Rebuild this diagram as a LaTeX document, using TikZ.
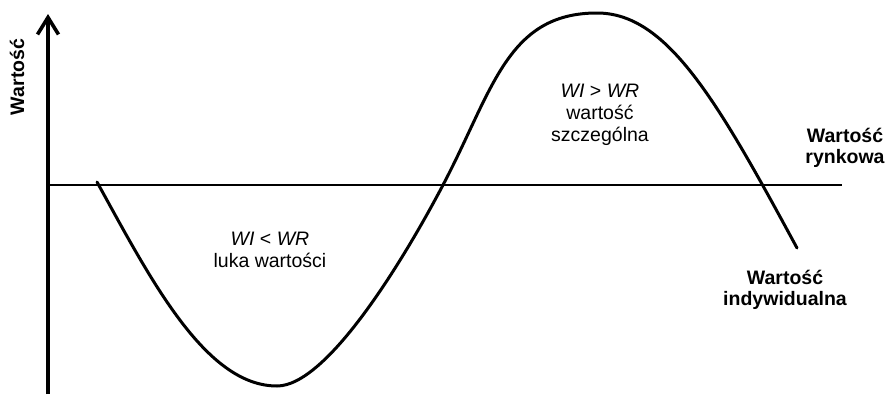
\documentclass[tikz,border=0pt]{standalone}
\usepackage{fontspec}
\setmainfont{Liberation Sans}
\usetikzlibrary{arrows.meta}
\tikzset{
  lbl/.style={inner sep=0pt, align=center, font=\fontsize{19.5}{22}\selectfont},
  blbl/.style={lbl, font=\fontsize{19.5}{21.5}\selectfont\bfseries},
  axisline/.style={line width=3.6pt, -{Straight Barb[length=17pt,width=21pt,line width=3.6pt]}},
  refline/.style={line width=2.2pt},
  curveline/.style={line width=3pt, line cap=round}
}
\begin{document}
\begin{tikzpicture}[x=1pt,y=-1pt]
\useasboundingbox (0,0) rectangle (887,394);
% axes
\coordinate (axb) at (48,394);
\coordinate (axt) at (48,14);
\draw[axisline] (axb) -- (axt);
\coordinate (hl) at (46,185);
\coordinate (hr) at (842,185);
\draw[refline] (hl) -- (hr);
% curve
\coordinate (c0) at (97,182);
\coordinate (cmin) at (277,386);
\coordinate (cx1) at (443,185);
\coordinate (cmax) at (597,13);
\coordinate (cend) at (797,248);
\draw[curveline] (c0) .. controls (150,278) and (205,386) .. (cmin)
  .. controls (327,386) and (403,261) .. (cx1)
  .. controls (493,90) and (507,13) .. (cmax)
  .. controls (667,13) and (717,100) .. (cend);
% labels
\node[blbl, rotate=90] (yl) at (17,77) {Wartość};
\node[blbl] (wr) at (845,148) {Wartość\\rynkowa};
\node[blbl] (wi) at (785,290) {Wartość\\indywidualna};
\node[lbl] (low) at (270,250) {\textit{WI} < \textit{WR}\\luka wartości};
\node[lbl] (high) at (600,115) {\textit{WI} > \textit{WR}\\wartość\\szczególna};
\end{tikzpicture}
\end{document}
